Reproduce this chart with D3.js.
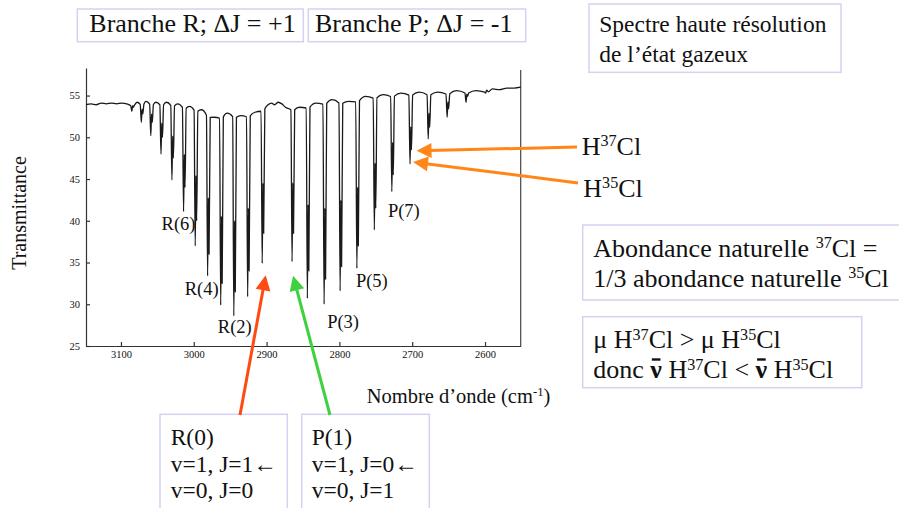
<!DOCTYPE html>
<html>
<head>
<meta charset="utf-8">
<script src="https://cdn.jsdelivr.net/npm/d3@7"></script>
<style>
  body { margin: 0; background: #fff; }
  text { font-family: "Liberation Serif", "Times New Roman", serif; fill: #111; }
</style>
</head>
<body>
<div id="chart"></div>
<script>
// H35Cl lines (cm-1) and minimum transmittance, with the H37Cl companion
const rJ = [0, 1, 2, 3, 4, 5, 6, 7, 8, 9, 10, 11];
const rWave = [2906, 2926, 2945, 2963, 2981, 2998, 3014, 3030, 3045, 3059, 3072, 3085];
const rMin35 = [34.9, 30.9, 28.6, 29.9, 33.4, 37.0, 41.1, 44.9, 48.0, 50.2, 51.8, 53.1];
const rMin37 = [38.5, 34.0, 31.5, 32.5, 36.0, 40.0, 44.0, 47.5, 50.0, 51.8, 52.8, 53.6];

const pJ = [1, 2, 3, 4, 5, 6, 7, 8, 9, 10, 11, 12];
const pWave = [2865, 2844, 2821, 2799, 2776, 2752, 2728, 2703, 2678, 2652, 2626, 2599];
const pMin35 = [35.1, 30.7, 30.0, 31.6, 34.3, 38.9, 43.5, 46.8, 49.8, 52.4, 54.2, 55.3];
const pMin37 = [38.5, 34.0, 33.0, 34.5, 37.0, 41.5, 45.5, 48.5, 51.2, 53.4, 54.9, 55.6];

// continuum between the lines
const baseWave = [3148, 3141, 3134, 3127, 3120, 3113, 3106, 3099, 3092, 3078, 3065.5, 3052,
  3037.5, 3022, 3006, 2989.5, 2972, 2954, 2935.5, 2916, 2898, 2893, 2889, 2884, 2879, 2874,
  2855, 2832.5, 2810, 2787.5, 2764, 2740, 2715.5, 2690.5, 2665, 2639, 2612.5, 2590, 2580,
  2570, 2560, 2551];
const baseT = [53.9, 54.0, 53.9, 54.1, 54.0, 54.1, 54.0, 54.1, 54.0, 54.2, 54.3, 54.2,
  54.2, 54.0, 53.7, 53.3, 52.4, 52.9, 52.6, 53.0, 53.9, 54.1, 53.9, 54.2, 54.0, 53.6,
  53.6, 54.1, 54.5, 54.3, 54.9, 55.1, 55.3, 55.4, 55.4, 55.6, 55.6, 55.8, 55.7,
  55.9, 55.9, 56.0];

const xTicks = [3100, 3000, 2900, 2800, 2700, 2600];
const yTicks = [25, 30, 35, 40, 45, 50, 55];
const rLabelJ = [6, 4, 2];
const pLabelJ = [7, 5, 3];

const width = 899;
const height = 508;

const svg = d3
  .select("#chart")
  .append("svg")
  .attr("width", width)
  .attr("height", height);

// Scales
const x = d3.scaleLinear().domain([3148, 2551]).range([86, 520.7]);
const y = d3.scaleLinear().domain([25, 58.3]).range([346, 68]);
const baseAt = d3.scaleLinear().domain(baseWave).range(baseT);

// Axes
svg
  .append("g")
  .attr("transform", "translate(0,346)")
  .call(
    d3.axisBottom(x).tickValues(xTicks).tickFormat(d3.format("d"))
      .tickSizeInner(-4).tickSizeOuter(0).tickPadding(5)
  )
  .call((g) => g.selectAll("text").attr("font-size", "10.5px"))
  .call((g) => g.selectAll("path,line").attr("stroke", "#333").attr("stroke-width", 1.2));

svg
  .append("g")
  .attr("transform", "translate(86,0)")
  .call(
    d3.axisLeft(y).tickValues(yTicks).tickFormat(d3.format("d"))
      .tickSizeInner(-4).tickSizeOuter(0).tickPadding(6)
  )
  .call((g) => g.selectAll("text").attr("font-size", "10.5px"))
  .call((g) => g.selectAll("path,line").attr("stroke", "#333").attr("stroke-width", 1.2));

svg
  .append("line")
  .attr("x1", x.range()[1])
  .attr("x2", x.range()[1])
  .attr("y1", y.range()[1] + 2)
  .attr("y2", y.range()[0])
  .attr("stroke", "#444")
  .attr("stroke-width", 1.2);

svg.selectAll(".domain").attr("fill", "none");

// Spectrum trace
const lines = rWave
  .map((w, i) => ({ w, m35: rMin35[i], m37: rMin37[i] }))
  .concat(pWave.map((w, i) => ({ w, m35: pMin35[i], m37: pMin37[i] })));

const trace = baseWave.map((w, i) => [w, baseT[i]]);
lines.forEach((l) => {
  const top = baseAt(l.w);
  trace.push([l.w + 1.6, baseAt(l.w + 1.6) - 0.3]);
  trace.push([l.w, l.m35]);
  trace.push([l.w - 1.0, l.m37 + (top - l.m37) * 0.4]);
  trace.push([l.w - 2.0, l.m37]);
  trace.push([l.w - 3.6, baseAt(l.w - 3.6) - 0.3]);
});
trace.sort((a, b) => b[0] - a[0]);

svg
  .append("path")
  .datum(trace)
  .attr("fill", "none")
  .attr("stroke", "#1a1a1a")
  .attr("stroke-width", 1.3)
  .attr("d", d3.line().x((d) => x(d[0])).y((d) => y(d[1])).curve(d3.curveMonotoneX));

// line labels
const labelGroup = svg.append("g").attr("font-size", "18.5px");
rLabelJ.forEach((j, k) => {
  const i = rJ.indexOf(j);
  const off = [[-5, 18], [-6, 19], [1, 17]][k];
  labelGroup
    .append("text")
    .attr("x", x(rWave[i]) + off[0])
    .attr("y", y(rMin35[i]) + off[1])
    .attr("text-anchor", "middle")
    .text(`R(${j})`);
});
pLabelJ.forEach((j, k) => {
  const i = pJ.indexOf(j);
  const off = [[12, 25], [15, 19], [19, 24]][k];
  labelGroup
    .append("text")
    .attr("x", x(pWave[i]) + off[0])
    .attr("y", y(pMin35[i]) + off[1])
    .attr("text-anchor", "middle")
    .text(`P(${j})`);
});

// text with superscripts
const richText = (sel, parts, size) => {
  let shift = 0;
  parts.forEach((p) => {
    const s = p.sup ? size * 0.33 : 0;
    const t = sel.append("tspan").text(p.t).attr("dy", shift - s);
    if (p.sup) t.attr("font-size", size * 0.62 + "px");
    if (p.bold) t.attr("font-weight", "bold");
    shift = s;
  });
  return sel;
};

svg
  .append("text")
  .attr("transform", "translate(26,213) rotate(-90)")
  .attr("text-anchor", "middle")
  .attr("font-size", "20px")
  .text("Transmittance");

richText(
  svg.append("text").attr("x", 366.7).attr("y", 403).attr("font-size", "20.5px"),
  [{ t: "Nombre d’onde (cm" }, { t: "-1", sup: true }, { t: ")" }],
  20.5
);

// Boxes
const box = (bx, by, bw, bh) =>
  svg
    .append("rect")
    .attr("x", bx)
    .attr("y", by)
    .attr("width", bw)
    .attr("height", bh)
    .attr("fill", "none")
    .attr("stroke", "#d2d2f4")
    .attr("stroke-width", 1.5);

box(77.3, 9, 226, 32.7);
box(308.3, 9, 217.4, 32.7);
svg.append("text").attr("x", 89.3).attr("y", 32).attr("font-size", "26px").text("Branche R; ΔJ = +1");
svg.append("text").attr("x", 315).attr("y", 32).attr("font-size", "26px").text("Branche P; ΔJ = -1");

box(589, 4, 252, 68.3);
svg.append("text").attr("x", 599.3).attr("y", 31.7).attr("font-size", "23.5px").text("Spectre haute résolution");
svg.append("text").attr("x", 599.3).attr("y", 61.7).attr("font-size", "23.5px").text("de l’état gazeux");

richText(svg.append("text").attr("x", 581.7).attr("y", 155).attr("font-size", "26px"),
  [{ t: "H" }, { t: "37", sup: true }, { t: "Cl" }], 26);
richText(svg.append("text").attr("x", 583.3).attr("y", 196.7).attr("font-size", "26px"),
  [{ t: "H" }, { t: "35", sup: true }, { t: "Cl" }], 26);

box(582.7, 225, 330, 75);
richText(svg.append("text").attr("x", 593.3).attr("y", 256.7).attr("font-size", "26px"),
  [{ t: "Abondance naturelle " }, { t: "37", sup: true }, { t: "Cl =" }], 26);
richText(svg.append("text").attr("x", 593.3).attr("y", 286.7).attr("font-size", "26px"),
  [{ t: "1/3 abondance naturelle " }, { t: "35", sup: true }, { t: "Cl" }], 26);

box(582.7, 316.7, 279, 71);
richText(svg.append("text").attr("x", 593.3).attr("y", 348.3).attr("font-size", "26px"),
  [{ t: "μ H" }, { t: "37", sup: true }, { t: "Cl > μ H" }, { t: "35", sup: true }, { t: "Cl" }], 26);
const donc = richText(svg.append("text").attr("x", 593.3).attr("y", 378.3).attr("font-size", "26px"),
  [{ t: "donc " }, { t: "ν", bold: true }, { t: " H" }, { t: "37", sup: true }, { t: "Cl < " },
   { t: "ν", bold: true }, { t: " H" }, { t: "35", sup: true }, { t: "Cl" }], 26);

// bar over the nu (wavenumber symbol)
const doncText = donc.text();
for (let i = 0; i < doncText.length; i++) {
  if (doncText[i] !== "ν") continue;
  const ext = donc.node().getExtentOfChar(i);
  svg
    .append("rect")
    .attr("x", ext.x + 1.5)
    .attr("y", 378.3 - 20)
    .attr("width", ext.width - 3)
    .attr("height", 2.4)
    .attr("fill", "#111");
}

box(160, 414.3, 127.3, 120);
box(301.7, 414.3, 127.6, 120);
[["R(0)", "v=1, J=1←", "v=0, J=0"], ["P(1)", "v=1, J=0←", "v=0, J=1"]].forEach((rows, c) => {
  rows.forEach((r, k) => {
    svg
      .append("text")
      .attr("x", c === 0 ? 170.7 : 311.7)
      .attr("y", 445 + k * 26.7)
      .attr("font-size", "23.5px")
      .text(r);
  });
});

// Arrows
const arrow = (x1, y1, x2, y2, color) => {
  const len = Math.hypot(x2 - x1, y2 - y1);
  const ux = (x2 - x1) / len;
  const uy = (y2 - y1) / len;
  const hl = 15;
  const hw = 7.5;
  const bx = x2 - ux * hl;
  const by = y2 - uy * hl;
  svg
    .append("line")
    .attr("x1", x1)
    .attr("y1", y1)
    .attr("x2", bx + ux * 2)
    .attr("y2", by + uy * 2)
    .attr("stroke", color)
    .attr("stroke-width", 3);
  svg
    .append("path")
    .attr("d", `M${x2},${y2}L${bx - uy * hw},${by + ux * hw}L${bx + uy * hw},${by - ux * hw}Z`)
    .attr("fill", color);
};

const r0 = rJ.indexOf(0);
const p1 = pJ.indexOf(1);
const p8 = pJ.indexOf(8);
arrow(240, 415, x(rWave[r0]) + 3.5, y(rMin35[r0]) + 12, "#ff4a12");
arrow(330, 415, x(pWave[p1]) + 1, y(pMin35[p1]) + 14, "#3fd13f");
arrow(577, 147, x(pWave[p8]) + 6.5, y(pMin37[p8]) + 1, "#ff8618");
arrow(578, 183, x(pWave[p8]) + 3, y(pMin35[p8]) - 2, "#ff8618");
</script>
</body>
</html>
